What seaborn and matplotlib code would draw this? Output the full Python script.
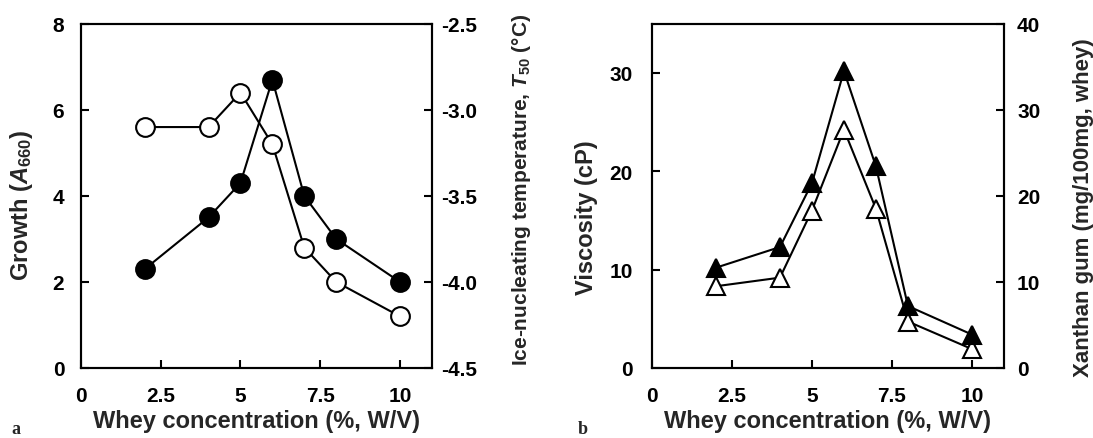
import matplotlib
matplotlib.use("Agg")
import matplotlib.pyplot as plt
import seaborn as sns
import pandas as pd

# ---- data ----
whey = [2, 4, 5, 6, 7, 8, 10]
growth = [2.3, 3.5, 4.3, 6.7, 4.0, 3.0, 2.0]
t50 = [-3.1, -3.1, -2.9, -3.2, -3.8, -4.0, -4.2]
viscosity = [10.2, 12.3, 18.8, 30.2, 20.5, 6.3, 3.4]
xanthan = [9.5, 10.5, 18.3, 27.7, 18.5, 5.4, 2.2]

x_ticks = [0, 2.5, 5, 7.5, 10]
x_ticklabels = ["0", "2.5", "5", "7.5", "10"]
growth_ticks = [0, 2, 4, 6, 8]
t50_ticks = [-4.5, -4.0, -3.5, -3.0, -2.5]
t50_ticklabels = ["-4.5", "-4.0", "-3.5", "-3.0", "-2.5"]
visc_ticks = [0, 10, 20, 30]
xan_ticks = [0, 10, 20, 30, 40]

sns.set_style("ticks")
plt.rcParams["font.family"] = ["Liberation Sans", "DejaVu Sans"]
plt.rcParams["font.weight"] = "bold"
plt.rcParams["mathtext.fontset"] = "custom"
plt.rcParams["mathtext.rm"] = "Liberation Sans:bold"
plt.rcParams["mathtext.it"] = "Liberation Sans:bold:italic"
plt.rcParams["mathtext.bf"] = "Liberation Sans:bold"

fig = plt.figure(figsize=(10.93, 4.39), dpi=100)
axA = fig.add_axes([0.0741, 0.1595, 0.321, 0.784])
axB = fig.add_axes([0.5965, 0.1595, 0.322, 0.784])

df_a = pd.DataFrame({"whey": whey, "growth": growth, "t50": t50})
df_b = pd.DataFrame({"whey": whey, "visc": viscosity, "xan": xanthan})

FS = 15
LW = 1.5
MS = 13.5
LBL = 17

def style_axis(ax, ypad):
    for s in ax.spines.values():
        s.set_linewidth(1.5)
        s.set_color("black")
    ax.tick_params(axis="both", direction="in", length=6, width=1.5,
                   labelsize=FS, colors="black")
    ax.tick_params(axis="x", pad=13)
    ax.tick_params(axis="y", pad=ypad)

# ---- panel a ----
axA2 = axA.twinx()
sns.lineplot(data=df_a, x="whey", y="t50", ax=axA2, color="black", lw=LW,
             marker="o", markersize=MS, markerfacecolor="white",
             markeredgecolor="black", markeredgewidth=1.5)
sns.lineplot(data=df_a, x="whey", y="growth", ax=axA, color="black", lw=LW,
             marker="o", markersize=MS, markerfacecolor="black",
             markeredgecolor="black", markeredgewidth=1.5)
axA.set_zorder(axA2.get_zorder() + 1)
axA.patch.set_visible(False)
axA.set_xlim(0, 11)
axA.set_ylim(0, 8)
axA2.set_ylim(-4.5, -2.5)
axA.set_xticks(x_ticks)
axA.set_xticklabels(x_ticklabels)
axA.set_yticks(growth_ticks)
axA2.set_yticks(t50_ticks)
axA2.set_yticklabels(t50_ticklabels)
axA.set_xlabel("Whey concentration (%, W/V)", fontsize=LBL, fontweight="bold")
axA.set_ylabel("Growth ($\\mathit{A}_{660}$)", fontsize=LBL, fontweight="bold")
axA2.set_ylabel("Ice-nucleating temperature, $\\mathit{T}_{50}$ (°C)", fontsize=15, fontweight="bold")
style_axis(axA, 12)
style_axis(axA2, 7)
axA.xaxis.set_label_coords(0.5, -0.119)
axA.yaxis.set_label_coords(-0.131, 0.474)
axA2.yaxis.set_label_coords(1.222, 0.52)

# ---- panel b ----
axB2 = axB.twinx()
sns.lineplot(data=df_b, x="whey", y="xan", ax=axB2, color="black", lw=LW,
             marker="^", markersize=MS, markerfacecolor="white",
             markeredgecolor="black", markeredgewidth=1.5)
sns.lineplot(data=df_b, x="whey", y="visc", ax=axB, color="black", lw=LW,
             marker="^", markersize=MS, markerfacecolor="black",
             markeredgecolor="black", markeredgewidth=1.5)
axB.set_zorder(axB2.get_zorder() + 1)
axB.patch.set_visible(False)
axB.set_xlim(0, 11)
axB.set_ylim(0, 35)
axB2.set_ylim(0, 40)
axB.set_xticks(x_ticks)
axB.set_xticklabels(x_ticklabels)
axB.set_yticks(visc_ticks)
axB2.set_yticks(xan_ticks)
axB.set_xlabel("Whey concentration (%, W/V)", fontsize=LBL, fontweight="bold")
axB.set_ylabel("Viscosity (cP)", fontsize=LBL, fontweight="bold")
axB2.set_ylabel("Xanthan gum (mg/100mg, whey)", fontsize=16, fontweight="bold")
style_axis(axB, 14)
style_axis(axB2, 9.5)
axB.xaxis.set_label_coords(0.5, -0.119)
axB.yaxis.set_label_coords(-0.153, 0.439)
axB2.yaxis.set_label_coords(1.196, 0.47)

fig.text(0.010, 0.012, "a", fontsize=13, family="Liberation Serif", fontweight="bold")
fig.text(0.529, 0.012, "b", fontsize=13, family="Liberation Serif", fontweight="bold")

fig.savefig("out.png", dpi=100, facecolor="white")
